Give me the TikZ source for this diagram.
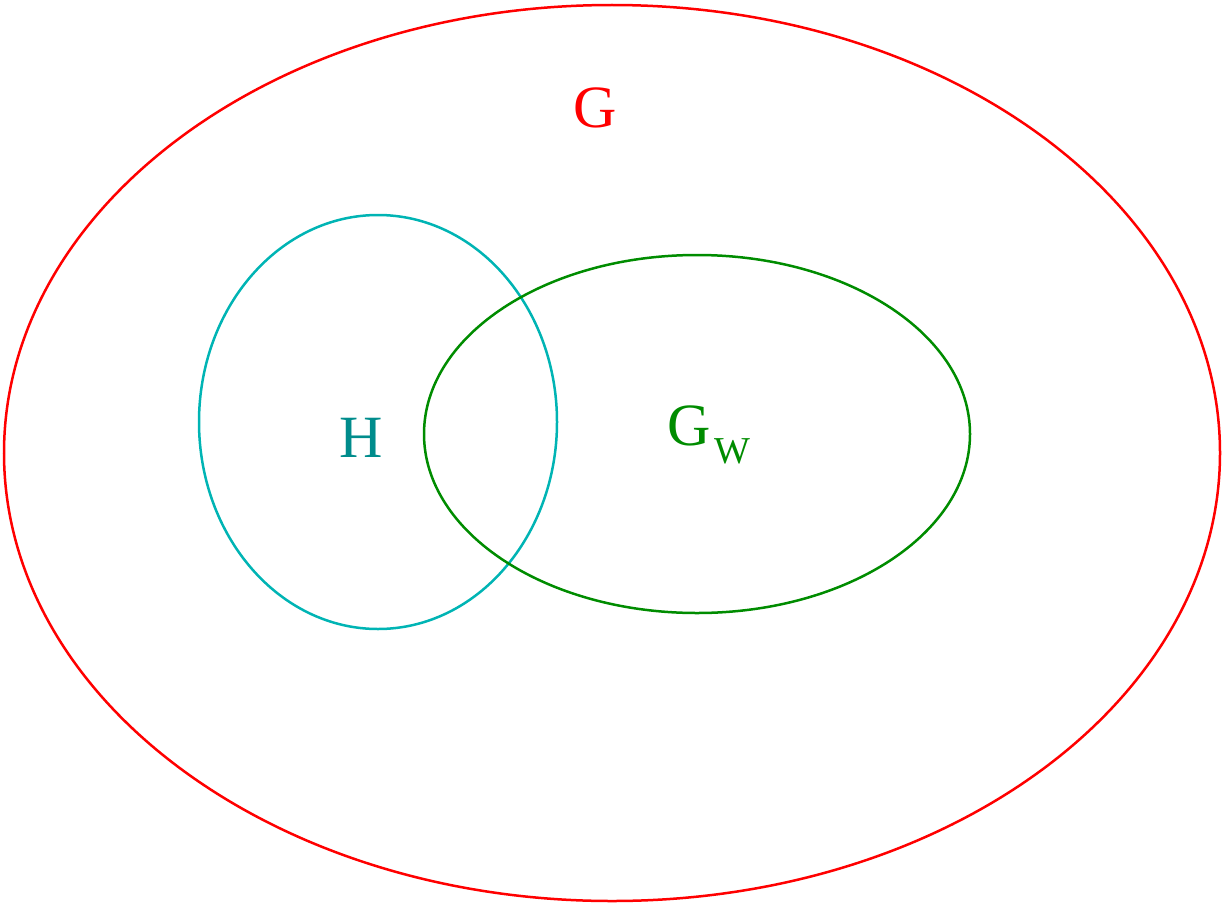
\documentclass[tikz,border=0pt]{standalone}
\usepackage{fontspec}
\setmainfont{Liberation Serif}
\definecolor{outerred}{RGB}{255,0,0}
\definecolor{hline}{RGB}{0,180,180}
\definecolor{htext}{RGB}{0,140,140}
\definecolor{gline}{RGB}{0,140,0}
\begin{document}
\begin{tikzpicture}[x=1pt,y=-1pt,
  setline/.style={line width=2.5pt},
  biglabel/.style={inner sep=0pt,anchor=base,font=\fontsize{60}{72}\selectfont}]
\useasboundingbox (0,0) rectangle (1225,907);
\draw[setline,outerred] (612,453) ellipse [x radius=608, y radius=448];
\draw[setline,hline] (378,422) ellipse [x radius=179, y radius=207];
\draw[setline,gline] (697,434) ellipse [x radius=273, y radius=179];
\node[biglabel,text=outerred] (g) at (595,127) {G};
\node[biglabel,text=htext] (h) at (361,457) {H};
\node[biglabel,text=gline,anchor=base west] (gw) at (667,445) {G\hspace{4pt}\raisebox{-18pt}{\fontsize{38}{40}\selectfont W}};
\end{tikzpicture}
\end{document}
